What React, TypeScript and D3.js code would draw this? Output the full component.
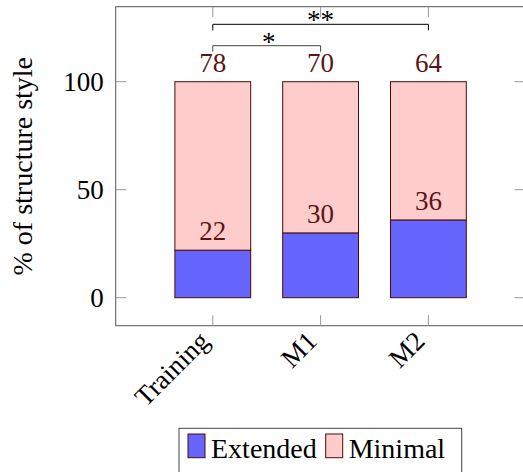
import React from "react";
import * as d3 from "d3";

const categories = ["Training", "M1", "M2"];
const extended = [22, 30, 36];
const minimal = [78, 70, 64];
const yTicks = [0, 50, 100];
const seriesNames = ["Extended", "Minimal"];
const brackets = [
  { from: "Training", to: "M1", label: "*", level: 0 },
  { from: "Training", to: "M2", label: "**", level: 1 },
];

const W = 523;
const H = 472;
const plotLeft = 115.7;
const plotRight = 525;
const plotTop = 6.7;
const plotBottom = 325.7;
const FONT = "'Liberation Serif', 'Times New Roman', serif";
const FS = 27;
const BLUE = "#6666ff";
const PINK = "#ffcccc";
const EDGE = "#4a0a0a";
const LABEL = "#5a1515";

export default function App() {
  const x = d3.scalePoint<string>().domain(categories).range([212.8, 428.4]);
  const y = d3.scaleLinear().domain([0, 100]).range([297.7, 81.7]);
  const barW = 75.8;
  const tickLen = 10.5;

  const stacked = d3.stack<any>().keys(seriesNames)(
    categories.map((c, i) => ({ cat: c, Extended: extended[i], Minimal: minimal[i] }))
  );
  const fills = [BLUE, PINK];
  const values = [extended, minimal];

  return (
    <svg width={W} height={H} style={{ position: "absolute", left: 0, top: 0 }} fontFamily={FONT}>
      <rect x={0} y={0} width={W} height={H} fill="white" />
      {/* bars */}
      {stacked.map((layer, si) => (
        <g key={si}>
          {layer.map((d, i) => (
            <rect
              key={i}
              x={x(categories[i])! - barW / 2}
              y={y(d[1])}
              width={barW}
              height={y(d[0]) - y(d[1])}
              fill={fills[si]}
              stroke={EDGE}
              strokeWidth={1}
            />
          ))}
        </g>
      ))}
      {/* value labels */}
      {stacked.map((layer, si) =>
        layer.map((d, i) => (
          <text
            key={`${si}-${i}`}
            x={x(categories[i])!}
            y={y(d[1]) - 10}
            textAnchor="middle"
            fontSize={FS}
            fill={LABEL}
          >
            {values[si][i]}
          </text>
        ))
      )}
      {/* axis box */}
      <rect
        x={plotLeft}
        y={plotTop}
        width={plotRight - plotLeft}
        height={plotBottom - plotTop}
        fill="none"
        stroke="#555"
        strokeWidth={1}
      />
      {/* y ticks */}
      {yTicks.map((t) => (
        <g key={t}>
          <line x1={plotLeft} x2={plotLeft + tickLen} y1={y(t)} y2={y(t)} stroke="#999" />
          <line x1={plotRight - tickLen} x2={plotRight} y1={y(t)} y2={y(t)} stroke="#999" />
          <text x={plotLeft - 12} y={y(t) + 9} textAnchor="end" fontSize={FS} fill="black">
            {t}
          </text>
        </g>
      ))}
      {/* x ticks */}
      {categories.map((c) => (
        <g key={c}>
          <line x1={x(c)} x2={x(c)} y1={plotBottom} y2={plotBottom - tickLen} stroke="#999" />
          <line x1={x(c)} x2={x(c)} y1={plotTop} y2={plotTop + tickLen} stroke="#999" />
          <text
            transform={`translate(${x(c)! - 2},${plotBottom + 17}) rotate(-45)`}
            textAnchor="end"
            fontSize={FS}
            fill="black"
          >
            {c}
          </text>
        </g>
      ))}
      {/* y axis label */}
      <text
        transform={`translate(32,${(plotTop + plotBottom) / 2}) rotate(-90)`}
        textAnchor="middle"
        fontSize={28}
        fill="black"
      >
        % of structure style
      </text>
      {/* significance brackets */}
      {brackets.map((b, i) => {
        const yb = b.level === 0 ? 45.7 : 24.3;
        const x1 = x(b.from)!;
        const x2 = x(b.to)!;
        return (
          <g key={i}>
            <path
              d={`M${x1},${yb + 6}V${yb}H${x2}V${yb + 6}`}
              fill="none"
              stroke={b.level === 0 ? "#444" : "black"}
              strokeWidth={1}
            />
            <text
              x={(x1 + x2) / 2 + (b.level === 0 ? 2 : 0)}
              y={b.level === 0 ? 51 : 29}
              textAnchor="middle"
              fontSize={FS}
              fill="black"
            >
              {b.label}
            </text>
          </g>
        );
      })}
      {/* legend */}
      <rect x={179} y={428.3} width={282.7} height={50} fill="white" stroke="#444" strokeWidth={1} />
      {seriesNames.map((s, i) => {
        const lx = i === 0 ? 188 : 325.7;
        return (
          <g key={s}>
            <rect x={lx} y={434} width={17} height={23.7} fill={fills[i]} stroke={EDGE} strokeWidth={1} />
            <text x={lx + 23} y={458.3} fontSize={28} fill="black">
              {s}
            </text>
          </g>
        );
      })}
    </svg>
  );
}
